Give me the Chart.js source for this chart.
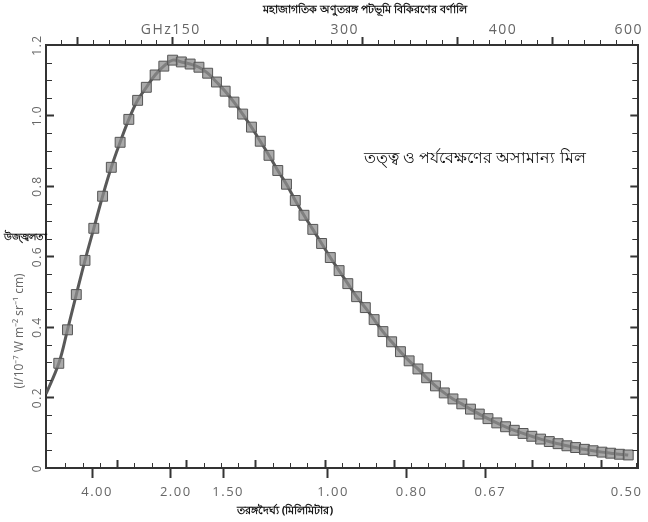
<!DOCTYPE html>
<html>
<head>
<meta charset="utf-8">
<script src="https://cdn.jsdelivr.net/npm/chart.js@4.4.0/dist/chart.umd.min.js"></script>
<style>
  html, body { margin: 0; padding: 0; background: #fff; }
  canvas { display: block; }
</style>
</head>
<body>
<canvas id="cmbChart" width="648" height="522"></canvas>
<script>
const freqGHz = [
  43.2, 51.5, 59.9, 68.2, 76.6, 85.0, 93.3, 101.7, 110.0, 118.4,
  126.7, 135.1, 143.4, 151.8, 160.1, 168.5, 176.9, 185.2, 193.6, 201.9,
  210.3, 218.6, 227.0, 235.4, 243.7, 252.1, 260.4, 268.8, 277.1, 285.5,
  293.9, 302.2, 310.6, 318.9, 327.3, 335.6, 344.0, 352.4, 360.7, 369.1,
  377.4, 385.8, 394.1, 402.5, 410.9, 419.2, 427.6, 435.9, 444.3, 452.6,
  461.0, 469.4, 477.7, 486.1, 494.4, 502.8, 511.1, 519.5, 527.9, 536.2,
  544.6, 552.9, 561.3, 569.6, 578.0, 586.4
];
// brightness (I / 10^-7 W m^-2 sr^-1 cm)
const brightness = [
  0.297, 0.392, 0.492, 0.589, 0.680, 0.771, 0.853, 0.924, 0.989, 1.043,
  1.080, 1.115, 1.140, 1.157, 1.152, 1.146, 1.137, 1.120, 1.095, 1.069,
  1.038, 1.004, 0.967, 0.927, 0.887, 0.844, 0.805, 0.759, 0.717, 0.677,
  0.637, 0.597, 0.560, 0.523, 0.486, 0.455, 0.421, 0.387, 0.358, 0.330,
  0.304, 0.281, 0.256, 0.233, 0.213, 0.196, 0.182, 0.167, 0.153, 0.140,
  0.128, 0.117, 0.107, 0.098, 0.090, 0.082, 0.075, 0.069, 0.063, 0.058,
  0.053, 0.049, 0.045, 0.042, 0.039, 0.037
];
// theory curve starts at the left edge of the plot
const curveStart = { x: 31, y: 0.21 };

const xMin = 31, xMax = 596;
const wavelengthTicks = [75, 150, 200, 300, 375, 450, 580];
const wavelengthLabels = ['4.00', '2.00', '1.50', '1.00', '0.80', '0.67', '0.50'];
const topTicks = [150, 316, 467, 587];
const topLabels = ['GHz150', '300', '400', '600'];
const yTicks = [0, 0.2, 0.4, 0.6, 0.8, 1.0, 1.2];
const yLabels = ['0', '0.2', '0.4', '0.6', '0.8', '1.0', '1.2'];

const titleText = 'মহাজাগতিক অণুতরঙ্গ পটভূমি বিকিরণের বর্ণালি';
const noteText = 'তত্ত্ব ও পর্যবেক্ষণের অসামান্য মিল';
const yNameText = 'উজ্জ্বলতা';
const yUnitText = '(I/10⁻⁷ W m⁻² sr⁻¹ cm)';
const xNameText = 'তরঙ্গদৈর্ঘ্য (মিলিমিটার)';

const axisColor = '#333';
const labelColor = '#666';

const points = freqGHz.map((f, i) => ({ x: f, y: brightness[i] }));

// small tick marks and free text that Chart.js can't place by itself
const extraMarks = {
  id: 'extraMarks',
  beforeDraw(chart) {
    chart.ctx.letterSpacing = '1.5px'; // spaced-out numbers like the original
  },
  afterDraw(chart) {
    const { ctx, chartArea: area, scales } = chart;
    const x = scales.x, y = scales.y;
    const line = (x1, y1, x2, y2) => {
      ctx.beginPath(); ctx.moveTo(x1, y1); ctx.lineTo(x2, y2); ctx.stroke();
    };
    ctx.letterSpacing = '0px';
    ctx.save();
    ctx.strokeStyle = axisColor;

    // inward ticks on left and right, every 0.05
    for (let k = 1; k < 24; k++) {
      const py = Math.round(y.getPixelForValue(k * 0.05)) + 0.5;
      const major = k % 4 === 0;
      ctx.lineWidth = major ? 2 : 1;
      const len = major ? 8 : 6;
      line(area.left, py, area.left + len, py);
      line(area.right, py, area.right - len, py);
    }

    // inward ticks along the bottom
    for (let k = 0; 49.5 + k * 16.48 < xMax; k++) {
      const px = Math.round(x.getPixelForValue(49.5 + k * 16.48)) + 0.5;
      const tall = k % 4 === 3;
      ctx.lineWidth = tall ? 2 : 1;
      line(px, area.bottom, px, area.bottom - (tall ? 8 : 5));
    }

    // outward ticks along the top
    for (let k = 0; 45.7 + k * 15.11 < xMax; k++) {
      const px = Math.round(x.getPixelForValue(45.7 + k * 15.11)) + 0.5;
      const tall = k % 6 === 1;
      ctx.lineWidth = tall ? 2 : 1;
      line(px, area.top, px, area.top - (tall ? 8 : 5));
    }

    ctx.fillStyle = '#111';
    ctx.textBaseline = 'middle';

    ctx.font = 'bold 11px "Noto Sans", sans-serif';
    ctx.textAlign = 'center';
    ctx.fillText(titleText, 365, 10);

    ctx.font = '16px "Noto Sans", sans-serif';
    ctx.textAlign = 'left';
    ctx.fillText(noteText, 364, 158);

    ctx.font = 'bold 10px "Noto Sans", sans-serif';
    ctx.fillText(yNameText, 4, 237);

    ctx.font = 'bold 11px "Noto Sans", sans-serif';
    ctx.textAlign = 'center';
    ctx.fillText(xNameText, 285, 511);

    ctx.save();
    ctx.translate(20, 331);
    ctx.rotate(-Math.PI / 2);
    ctx.fillStyle = labelColor;
    ctx.font = '12px "Open Sans", sans-serif';
    ctx.fillText(yUnitText, 0, 0);
    ctx.restore();

    ctx.restore();
  }
};

const ctx = document.getElementById('cmbChart').getContext('2d');

new Chart(ctx, {
  type: 'scatter',
  data: {
    datasets: [
      {
        label: 'FIRAS',
        data: points,
        showLine: false,
        pointStyle: 'rect',
        pointRadius: 7,
        pointHoverRadius: 7,
        pointBackgroundColor: 'rgba(140,140,140,0.75)',
        pointBorderColor: '#555',
        pointBorderWidth: 1
      },
      {
        label: 'theory',
        data: [curveStart, ...points],
        showLine: true,
        borderColor: '#595959',
        borderWidth: 3,
        tension: 0.4,
        pointRadius: 0,
        pointHoverRadius: 0
      }
    ]
  },
  options: {
    responsive: false,
    animation: false,
    layout: { padding: 0 },
    plugins: {
      legend: { display: false },
      tooltip: { enabled: false },
      title: { display: false }
    },
    scales: {
      x: {
        type: 'linear',
        position: 'bottom',
        min: xMin,
        max: xMax,
        afterBuildTicks: s => { s.ticks = wavelengthTicks.map(v => ({ value: v })); },
        afterFit: s => { s.height = 54; },
        ticks: {
          callback: (v, i) => wavelengthLabels[i],
          autoSkip: false,
          maxRotation: 0,
          padding: 6,
          labelOffset: 5,
          color: labelColor,
          font: { family: 'Open Sans', size: 13 }
        },
        grid: {
          drawOnChartArea: false,
          tickLength: 10,
          tickWidth: 2,
          tickColor: c => c.index === wavelengthTicks.length - 1 ? 'rgba(0,0,0,0)' : axisColor
        },
        border: { color: axisColor, width: 2 }
      },
      x2: {
        type: 'linear',
        position: 'top',
        min: xMin,
        max: xMax,
        afterBuildTicks: s => { s.ticks = topTicks.map(v => ({ value: v })); },
        afterFit: s => { s.height = 45; },
        ticks: {
          callback: (v, i) => topLabels[i],
          autoSkip: false,
          maxRotation: 0,
          padding: 7,
          color: labelColor,
          font: { family: 'Open Sans', size: 14 }
        },
        grid: { drawOnChartArea: false, drawTicks: false },
        border: { color: axisColor, width: 2 }
      },
      y: {
        position: 'left',
        min: 0,
        max: 1.2,
        afterBuildTicks: s => { s.ticks = yTicks.map(v => ({ value: v })); },
        afterFit: s => { s.width = 46; },
        ticks: {
          callback: (v, i) => yLabels[i],
          minRotation: 90,
          maxRotation: 90,
          crossAlign: 'center',
          padding: 0,
          color: labelColor,
          font: { family: 'Open Sans', size: 12 }
        },
        grid: { drawOnChartArea: false, drawTicks: false },
        border: { color: axisColor, width: 2 }
      },
      y2: {
        position: 'right',
        min: 0,
        max: 1.2,
        afterFit: s => { s.width = 4; },
        ticks: { display: false },
        grid: { drawOnChartArea: false, drawTicks: false },
        border: { color: axisColor, width: 2 }
      }
    }
  },
  plugins: [extraMarks]
});
</script>
</body>
</html>
